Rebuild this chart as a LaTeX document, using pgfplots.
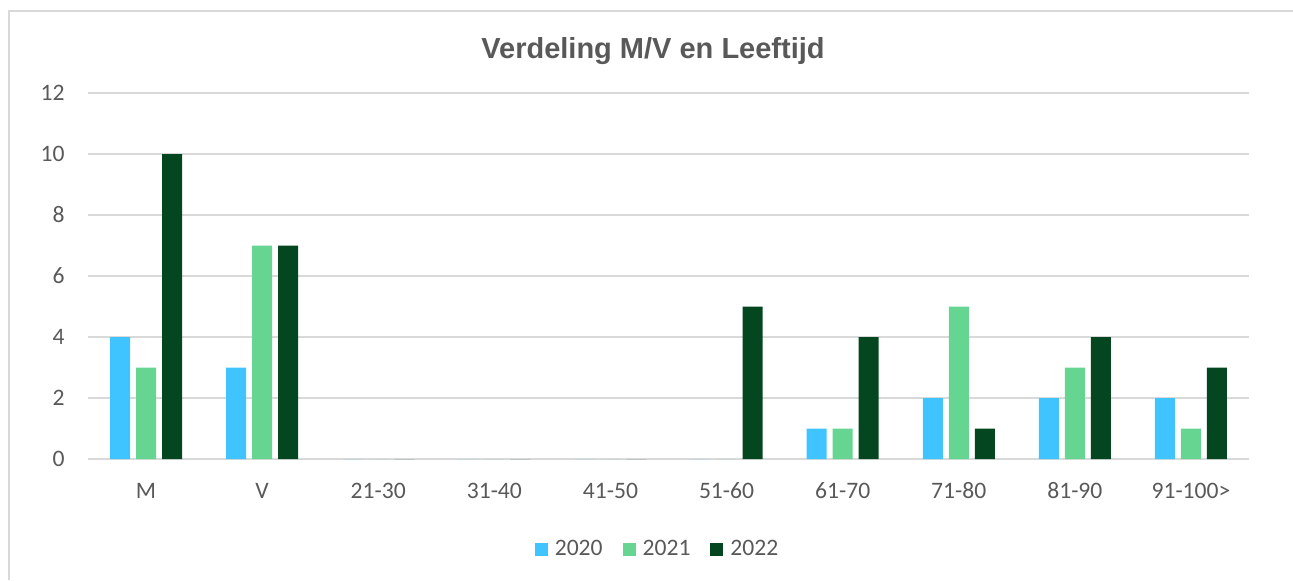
\documentclass[border=0pt]{standalone}
\usepackage{pgfplots}
\pgfplotsset{compat=1.18}
\usepackage{fontspec}
\setmainfont{Carlito}
\newfontfamily\titlefont{Liberation Sans}
\definecolor{txt}{HTML}{595959}
\definecolor{grd}{HTML}{D9D9D9}
\definecolor{cA}{HTML}{40C4FF}
\definecolor{cB}{HTML}{66D591}
\definecolor{cC}{HTML}{03461F}
\begin{document}
\begin{tikzpicture}
\path[use as bounding box] (0pt,0pt) rectangle (646.5pt,-290pt);
\draw[grd, line width=0.75pt] (4.5pt,-290pt) -- (4.5pt,-5.5pt) -- (646.5pt,-5.5pt);
\node[font=\titlefont\bfseries\fontsize{14.5}{17}\selectfont, text=txt] at (326.5pt,-25.5pt) {Verdeling M/V en Leeftijd};
\begin{axis}[
  at={(44pt,-229.5pt)}, anchor=south west,
  width=580.5pt, height=183pt, scale only axis,
  ybar=3pt, bar width=10pt,
  xmin=-0.5, xmax=9.5, ymin=0, ymax=12,
  xtick=data,
  xticklabels={M,V,21-30,31-40,41-50,51-60,61-70,71-80,81-90,91-100>},
  ytick={0,2,4,6,8,10,12},
  axis line style={draw=none},
  ymajorgrids, grid style={grd, line width=1pt},
  major tick length=0pt,
  /pgf/number format/assume math mode=true,
  tick label style={font=\fontsize{11.8}{13}\selectfont, text=txt, inner sep=0pt},
  yticklabel style={anchor=east, xshift=-11.5pt},
  xticklabel style={anchor=base, yshift=-19.5pt},
  legend style={draw=none, fill=none, at={(0.4897,-0.246)}, anchor=center,
    legend columns=3, font=\fontsize{11.8}{13}\selectfont, text=txt,
    /tikz/every even column/.append style={column sep=10pt},
    nodes={inner sep=0pt}},
  legend image code/.code={\fill[#1,draw=none] (0pt,-3.25pt) rectangle (6.5pt,3.25pt); \path (10pt,0pt);},
  clip=false,
]
\addplot[fill=cA, draw=none] coordinates {(0,4) (1,3) (2,0) (3,0) (4,0) (5,0) (6,1) (7,2) (8,2) (9,2)};
\addplot[fill=cB, draw=none] coordinates {(0,3) (1,7) (2,0) (3,0) (4,0) (5,0) (6,1) (7,5) (8,3) (9,1)};
\addplot[fill=cC, draw=none] coordinates {(0,10) (1,7) (2,0) (3,0) (4,0) (5,5) (6,4) (7,1) (8,4) (9,3)};
\legend{2020,2021,2022}
\end{axis}
\end{tikzpicture}
\end{document}
